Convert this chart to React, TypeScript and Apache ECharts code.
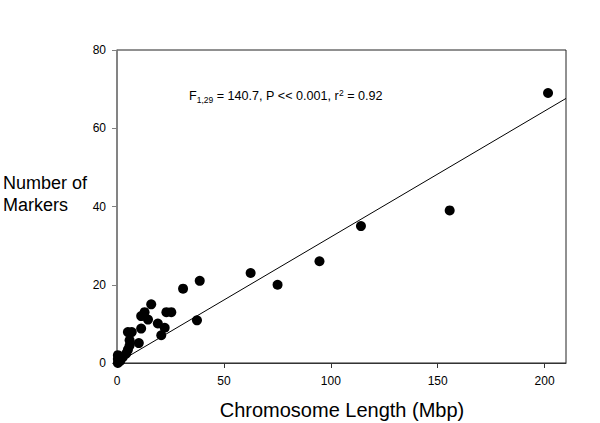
import React, { useEffect, useRef } from "react";
import * as echarts from "echarts";

const chromosomeLength: number[] = [
  0.4, 0.4, 0.4, 1.5, 2.7, 4.3, 5.1, 5.9, 5.9, 5.1, 6.9, 10.2, 11.3, 11.3, 12.9, 14.5,
  16.0, 19.1, 20.7, 22.3, 23.1, 25.4, 30.9, 37.4, 38.7, 62.5, 75.1, 94.7, 114.1, 155.6, 201.6,
];
const markerCount: number[] = [
  0, 1, 2, 0.5, 1.5, 2.4, 3.4, 4.5, 5.8, 7.9, 7.9, 5.1, 8.8, 12, 13, 11.1,
  15, 10.1, 7.1, 9.0, 13, 13, 19, 10.9, 21, 23, 20, 26, 35, 39, 69,
];
const xTicks: number[] = [0, 50, 100, 150, 200];
const yTicks: number[] = [0, 20, 40, 60, 80];
const fitSlope = 0.322;
const fitIntercept = 0;
const fitRange: number[] = [0, 210];

const FONT = "'Liberation Sans', Arial, Helvetica, sans-serif";

export default function App() {
  const ref = useRef<HTMLDivElement>(null);
  useEffect(() => {
    if (!ref.current) return;
    const chart = echarts.init(ref.current, undefined, { renderer: "svg" });
    const points = chromosomeLength.map((x, i) => [x, markerCount[i]]);
    const fitLine = fitRange.map((x) => [x, fitIntercept + fitSlope * x]);
    chart.setOption({
      animation: false,
      backgroundColor: "#ffffff",
      grid: {
        left: 117,
        top: 50,
        right: 34,
        bottom: 60,
        show: true,
        borderColor: "#222",
        borderWidth: 1,
        backgroundColor: "transparent",
      },
      xAxis: {
        type: "value",
        min: 0,
        max: 210,
        interval: 50,
        splitLine: { show: false },
        axisLine: { show: true, onZero: false, lineStyle: { color: "#333", width: 1 } },
        axisTick: { show: true, length: 5, customValues: xTicks, lineStyle: { color: "#333" } },
        axisLabel: {
          customValues: xTicks,
          margin: 12,
          color: "#000",
          fontFamily: FONT,
          fontSize: 12,
        },
      },
      yAxis: {
        type: "value",
        min: 0,
        max: 80,
        interval: 20,
        splitLine: { show: false },
        axisLine: { show: true, onZero: false, lineStyle: { color: "#808080", width: 1.5 } },
        axisTick: { show: true, length: 5, customValues: yTicks, lineStyle: { color: "#808080" } },
        axisLabel: {
          customValues: yTicks,
          margin: 11,
          color: "#000",
          fontFamily: FONT,
          fontSize: 12,
        },
      },
      graphic: [
        {
          type: "text",
          left: 3,
          top: 172,
          style: {
            text: "Number of\nMarkers",
            fontFamily: FONT,
            fontSize: 18,
            lineHeight: 22,
            fill: "#000",
          },
        },
        {
          type: "text",
          x: 342,
          y: 410,
          style: {
            text: "Chromosome Length (Mbp)",
            fontFamily: FONT,
            fontSize: 20,
            fill: "#000",
            align: "center",
            verticalAlign: "middle",
          },
        },
        {
          type: "text",
          left: 189,
          top: 88,
          style: {
            text: "{a|F}{sub|1,29}{a| = 140.7, P << 0.001, r}{sup|2}{a| = 0.92}",
            fontFamily: FONT,
            fill: "#000",
            rich: {
              a: { fontSize: 12.6, lineHeight: 16, fontFamily: FONT, fill: "#000" },
              sub: { fontSize: 8.5, lineHeight: 8, verticalAlign: "bottom", fontFamily: FONT, fill: "#000" },
              sup: { fontSize: 8.5, lineHeight: 8, verticalAlign: "top", fontFamily: FONT, fill: "#000" },
            },
          },
        },
      ],
      series: [
        {
          type: "line",
          data: fitLine,
          symbol: "none",
          lineStyle: { color: "#000", width: 1 },
          silent: true,
          z: 2,
        },
        {
          type: "scatter",
          data: points,
          symbol: "circle",
          symbolSize: 10,
          itemStyle: { color: "#000", opacity: 1 },
          z: 3,
        },
      ],
    });
    return () => chart.dispose();
  }, []);
  return <div ref={ref} style={{ width: 600, height: 423, position: "absolute", left: 0, top: 0 }} />;
}
